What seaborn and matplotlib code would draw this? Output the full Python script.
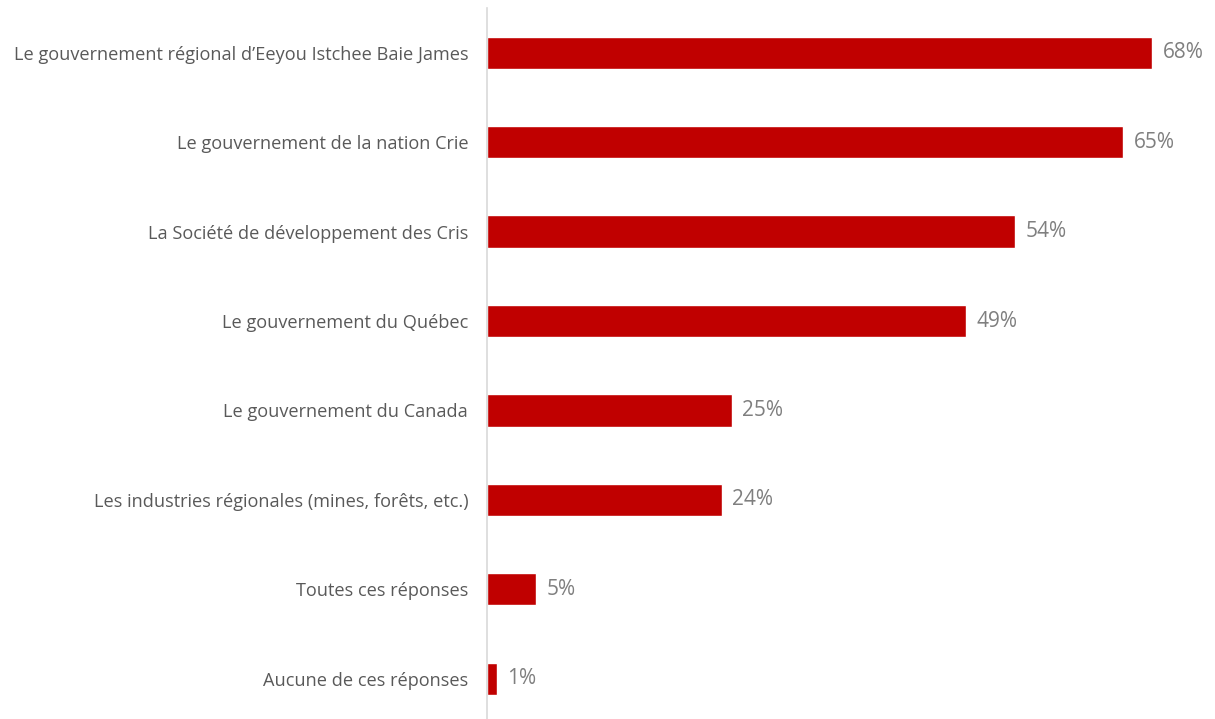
import matplotlib
matplotlib.use("Agg")
import matplotlib.pyplot as plt
import seaborn as sns
import pandas as pd

categories = [
    "Le gouvernement régional d\u2019Eeyou Istchee Baie James",
    "Le gouvernement de la nation Crie",
    "La Société de développement des Cris",
    "Le gouvernement du Québec",
    "Le gouvernement du Canada",
    "Les industries régionales (mines, forêts, etc.)",
    "Toutes ces réponses",
    "Aucune de ces réponses",
]
values = [68, 65, 54, 49, 25, 24, 5, 1]

df = pd.DataFrame({"cat": categories, "val": values})

sns.set_style("white")
plt.rcParams["font.family"] = ["Open Sans", "DejaVu Sans"]

fig = plt.figure(figsize=(12.15, 7.19), dpi=100)
ax = fig.add_axes([487 / 1215, 0.0, 1 - 487 / 1215, 711 / 719])

sns.barplot(data=df, x="val", y="cat", color="#C00000", width=0.36,
            saturation=1, ax=ax, orient="h")

ax.set_xlim(0, 74.4)
ax.set_ylim(7.45, -0.5)
ax.set_xlabel("")
ax.set_ylabel("")
ax.set_xticks([])
for s in ["top", "right", "bottom"]:
    ax.spines[s].set_visible(False)
ax.spines["left"].set_color("#d9d9d9")
ax.spines["left"].set_linewidth(1.2)
ax.tick_params(axis="y", length=0, pad=13.5, labelsize=13.1, labelcolor="#595959")

for i, v in enumerate(values):
    ax.annotate(f"{v}%", (v, i), xytext=(7.5, 0), textcoords="offset points",
                va="center", ha="left", fontsize=15, color="#7f7f7f")

fig.savefig("out.png", dpi=100)
